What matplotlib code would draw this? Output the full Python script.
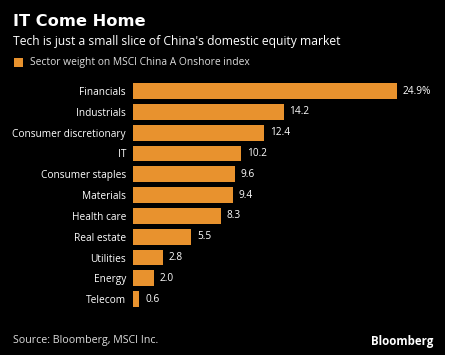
import matplotlib.pyplot as plt
from matplotlib.patches import Rectangle

# Sector weights (%) on MSCI China A Onshore index
sectors = ['Financials', 'Industrials', 'Consumer discretionary', 'IT',
           'Consumer staples', 'Materials', 'Health care', 'Real estate',
           'Utilities', 'Energy', 'Telecom']
weights = [24.9, 14.2, 12.4, 10.2, 9.6, 9.4, 8.3, 5.5, 2.8, 2.0, 0.6]
value_labels = ['24.9%', '14.2', '12.4', '10.2', '9.6', '9.4', '8.3', '5.5', '2.8', '2.0', '0.6']

W, H = 467, 355
orange = '#E8922E'
plt.rcParams['font.family'] = ['Open Sans', 'DejaVu Sans']

fig = plt.figure(figsize=(W / 100, H / 100), dpi=100)
fig.patch.set_facecolor('white')
# black panel (the right strip of the picture stays white)
fig.add_artist(Rectangle((0, 0), 445 / W, 1, transform=fig.transFigure,
                         facecolor='black', edgecolor='none', zorder=-10))

ax = fig.add_axes([133 / W, 1 - 309.6 / H, (430 - 133) / W, 229 / H])
ax.set_facecolor('none')
y = range(len(sectors))
bars = ax.barh(y, weights, height=0.76, color=orange)
ax.set_ylim(len(sectors) - 0.5, -0.5)
ax.set_xlim(0, (430 - 133) / 10.6)
ax.set_yticks(list(y))
ax.set_yticklabels(sectors, color='white', fontsize=7.3)
ax.tick_params(axis='y', length=0, pad=5)
ax.set_xticks([])
for s in ax.spines.values():
    s.set_visible(False)

for bar, lab in zip(bars, value_labels):
    ax.text(bar.get_width() + 0.55, bar.get_y() + bar.get_height() / 2, lab,
            color='white', fontsize=7.3, va='center', ha='left')

fig.text(13 / W, 1 - 22 / H, 'IT Come Home', color='white', fontsize=11.7,
         fontweight='bold', family='DejaVu Sans', va='center', ha='left')
fig.text(13 / W, 1 - 42 / H, "Tech is just a small slice of China's domestic equity market",
         color='white', fontsize=8.7, va='center', ha='left')
fig.add_artist(Rectangle((14 / W, 1 - 67 / H), 9 / W, 9 / H, transform=fig.transFigure,
                         facecolor=orange, edgecolor='none'))
fig.text(30 / W, 1 - 62.5 / H, 'Sector weight on MSCI China A Onshore index',
         color='#dddddd', fontsize=7.35, va='center', ha='left')
fig.text(13 / W, 1 - 340 / H, 'Source: Bloomberg, MSCI Inc.', color='#dddddd',
         fontsize=7.7, va='center', ha='left')
fig.text(433 / W, 1 - 342 / H, 'Bloomberg', color='white', fontsize=8.3,
         fontweight='bold', va='center', ha='right')

fig.savefig('out.png', dpi=100, facecolor=fig.get_facecolor())
